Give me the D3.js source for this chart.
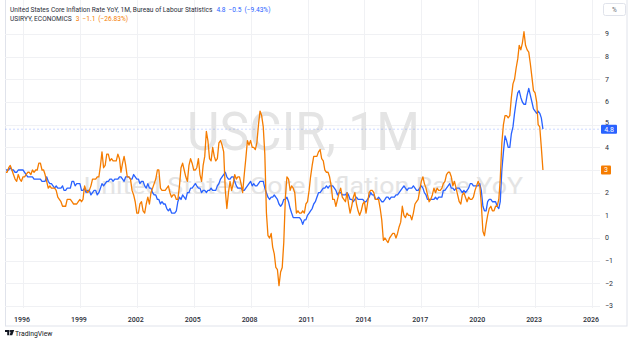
<!DOCTYPE html>
<html><head><meta charset="utf-8">
<script src="https://cdn.jsdelivr.net/npm/d3@7"></script>
<style>
body{margin:0;background:#fff;}
svg{display:block;font-family:Roboto,"Liberation Sans",sans-serif;}
</style>
</head><body>
<svg id="chart" width="635" height="346"></svg>
<script>
// ---- data (monthly, starting Jan 1995) ----
const startMonth = "1995-01";
const coreInflation = [
2.9,3.0,3.0,3.0,3.1,3.0,3.0,2.9,2.9,3.0,3.0,3.0,
3.0,2.9,2.8,2.7,2.7,2.7,2.7,2.6,2.6,2.6,2.6,2.6,
2.5,2.5,2.5,2.7,2.5,2.4,2.4,2.3,2.2,2.3,2.2,2.2,
2.2,2.3,2.1,2.1,2.2,2.2,2.2,2.5,2.5,2.3,2.4,2.4,
2.4,2.1,2.1,2.2,2.0,2.1,2.1,1.9,2.0,2.1,2.1,1.9,
2.0,2.2,2.4,2.3,2.4,2.5,2.5,2.6,2.6,2.5,2.6,2.6,
2.6,2.7,2.7,2.6,2.5,2.7,2.7,2.7,2.6,2.6,2.8,2.7,
2.6,2.6,2.4,2.5,2.5,2.3,2.2,2.4,2.2,2.2,2.0,1.9,
1.9,1.7,1.7,1.5,1.6,1.5,1.5,1.3,1.2,1.3,1.1,1.1,
1.1,1.2,1.6,1.8,1.7,1.9,1.8,1.7,2.0,2.0,2.2,2.2,
2.3,2.4,2.3,2.2,2.2,2.0,2.1,2.1,2.0,2.1,2.1,2.2,
2.1,2.1,2.1,2.3,2.4,2.6,2.7,2.8,2.9,2.7,2.6,2.6,
2.7,2.7,2.5,2.3,2.2,2.2,2.2,2.1,2.1,2.2,2.3,2.4,
2.5,2.3,2.4,2.3,2.3,2.4,2.5,2.5,2.5,2.2,2.0,1.8,
1.7,1.8,1.8,1.9,1.8,1.7,1.5,1.4,1.5,1.7,1.7,1.8,
1.6,1.3,1.1,0.9,0.9,0.9,0.9,0.9,0.8,0.6,0.8,0.8,
1.0,1.1,1.2,1.3,1.5,1.6,1.8,2.0,2.0,2.1,2.2,2.2,
2.3,2.2,2.3,2.3,2.3,2.2,2.1,1.9,2.0,2.0,1.9,1.9,
1.9,2.0,1.9,1.7,1.7,1.6,1.7,1.8,1.7,1.7,1.7,1.7,
1.6,1.6,1.7,1.8,2.0,1.9,1.9,1.7,1.7,1.8,1.7,1.6,
1.6,1.7,1.8,1.8,1.7,1.8,1.8,1.8,1.9,1.9,2.0,2.1,
2.2,2.3,2.2,2.1,2.2,2.2,2.2,2.3,2.2,2.1,2.1,2.2,
2.3,2.2,2.0,1.9,1.7,1.7,1.7,1.7,1.7,1.8,1.7,1.8,
1.8,1.8,2.1,2.1,2.2,2.3,2.4,2.2,2.2,2.1,2.2,2.2,
2.2,2.1,2.0,2.1,2.0,2.1,2.2,2.4,2.4,2.3,2.3,2.3,
2.3,2.4,2.1,1.4,1.2,1.2,1.6,1.7,1.7,1.6,1.6,1.6,
1.4,1.3,1.6,3.0,3.8,4.5,4.3,4.0,4.0,4.6,4.9,5.5,
6.0,6.4,6.5,6.2,6.0,5.9,5.9,6.3,6.6,6.3,6.0,5.7,
5.6,5.5,5.6,5.5,5.3,4.8
];
const headlineInflation = [
2.8,2.9,2.9,3.1,3.2,3.0,2.8,2.6,2.5,2.8,2.6,2.5,
2.7,2.7,2.8,2.9,2.9,2.8,3.0,2.9,3.0,3.0,3.3,3.3,
3.0,3.0,2.8,2.5,2.2,2.3,2.2,2.2,2.2,2.1,1.8,1.7,
1.6,1.4,1.4,1.4,1.7,1.7,1.7,1.6,1.5,1.5,1.5,1.6,
1.7,1.6,1.7,2.3,2.1,2.0,2.1,2.3,2.6,2.6,2.6,2.7,
2.7,3.2,3.8,3.1,3.2,3.7,3.7,3.4,3.5,3.4,3.4,3.4,
3.7,3.5,2.9,3.3,3.6,3.2,2.7,2.7,2.6,2.1,1.9,1.6,
1.1,1.1,1.5,1.6,1.2,1.1,1.5,1.8,1.5,2.0,2.2,2.4,
2.6,3.0,3.0,2.2,2.1,2.1,2.1,2.2,2.3,2.0,1.8,1.9,
1.9,1.7,1.7,2.3,3.1,3.3,3.0,2.7,2.5,3.2,3.5,3.3,
3.0,3.0,3.1,3.5,2.8,2.5,3.2,3.6,4.7,4.3,3.5,3.4,
4.0,3.6,3.4,3.5,4.2,4.3,4.1,3.8,2.1,1.3,2.0,2.5,
2.1,2.4,2.8,2.6,2.7,2.7,2.4,2.0,2.8,3.5,4.3,4.1,
4.3,4.0,4.0,3.9,4.2,5.0,5.6,5.4,4.9,3.7,1.1,0.1,
0.0,0.2,-0.4,-0.7,-1.3,-1.4,-2.1,-1.5,-1.3,-0.2,1.8,2.7,
2.6,2.1,2.3,2.2,2.0,1.1,1.2,1.1,1.1,1.2,1.1,1.5,
1.6,2.1,2.7,3.2,3.6,3.6,3.6,3.8,3.9,3.5,3.4,3.0,
2.9,2.9,2.7,2.3,1.7,1.7,1.4,1.7,2.0,2.2,1.8,1.7,
1.6,2.0,1.5,1.1,1.4,1.8,2.0,1.5,1.2,1.0,1.2,1.5,
1.6,1.1,1.5,2.0,2.1,2.1,2.0,1.7,1.7,1.7,1.3,0.8,
-0.1,0.0,-0.1,-0.2,0.0,0.1,0.2,0.2,0.0,0.2,0.5,0.7,
1.4,1.0,0.9,1.1,1.0,1.0,0.8,1.1,1.5,1.6,1.7,2.1,
2.5,2.7,2.4,2.2,1.9,1.6,1.7,1.9,2.2,2.0,2.2,2.1,
2.1,2.2,2.4,2.5,2.8,2.9,2.9,2.7,2.3,2.5,2.2,1.9,
1.6,1.5,1.9,2.0,1.8,1.6,1.8,1.7,1.7,1.8,2.1,2.3,
2.5,2.3,1.5,0.3,0.1,0.6,1.0,1.3,1.4,1.2,1.2,1.4,
1.4,1.7,2.6,4.2,5.0,5.4,5.4,5.3,5.4,6.2,6.8,7.0,
7.5,7.9,8.5,8.3,8.6,9.1,8.5,8.3,8.2,7.7,7.1,6.5,
6.4,6.0,5.0,4.9,4.0,3.0
];
const yearTicks = [1996,1999,2002,2005,2008,2011,2014,2017,2020,2023,2026];
const priceTicks = [-3,-2,-1,0,1,2,3,4,5,6,7,8,9];
const coreTitle = "United States Core Inflation Rate YoY, 1M, Bureau of Labour Statistics";
const coreStats = ["4.8", "\u22120.5", "(\u22129.43%)"];
const headlineTitle = "USIRYY, ECONOMICS";
const headlineStats = ["3", "\u22121.1", "(\u221226.83%)"];
const watermarkMain = "USCIR, 1M";
const watermarkSub = "United States Core Inflation Rate YoY";
const lastCore = 4.8, lastHeadline = 3;

// ---- drawing ----
const BLUE = "#2962ff", ORANGE = "#f57c00", GRID = "#f0f1f4", TEXT = "#2a2e39";
const svg = d3.select("#chart");
const paneL = 5, paneR = 600, paneT = 0, paneB = 308;

const parse = d3.timeParse("%Y-%m");
const t0 = parse(startMonth);
const toRows = arr => arr.map((v, i) => ({date: d3.timeMonth.offset(t0, i), v}));
const coreRows = toRows(coreInflation), headRows = toRows(headlineInflation);

const x = d3.scaleTime()
  .domain([new Date(1996,0,1), new Date(2026,0,1)])
  .range([23, 592]);
const y = d3.scaleLinear().domain([-3, 9]).range([306, 34]);

// outer frame
svg.append("rect").attr("x", 5.5).attr("y", -1).attr("width", 621.5).attr("height", 327)
  .attr("fill", "none").attr("stroke", "#e0e3eb").attr("stroke-width", 1);

// grid
const grid = svg.append("g");
grid.selectAll("line.h").data(priceTicks).join("line")
  .attr("x1", paneL).attr("x2", paneR)
  .attr("y1", d => Math.round(y(d)) + 0.5).attr("y2", d => Math.round(y(d)) + 0.5)
  .attr("stroke", GRID);
grid.selectAll("line.v").data(yearTicks).join("line")
  .attr("x1", d => Math.round(x(new Date(d,0,1))) + 0.5).attr("x2", d => Math.round(x(new Date(d,0,1))) + 0.5)
  .attr("y1", paneT).attr("y2", paneB)
  .attr("stroke", GRID);

// watermark
const cx = (paneL + paneR) / 2 + 1;
svg.append("text").attr("x", cx).attr("y", 150).attr("text-anchor", "middle")
  .attr("font-size", 53).attr("fill", "#e4e4e4")
  .attr("textLength", 233).attr("lengthAdjust", "spacingAndGlyphs")
  .text(watermarkMain);
svg.append("text").attr("x", cx).attr("y", 194).attr("text-anchor", "middle")
  .attr("font-size", 24.5).attr("fill", "#e4e4e4")
  .attr("textLength", 439).attr("lengthAdjust", "spacingAndGlyphs")
  .text(watermarkSub);

// dashed last-value line
svg.append("line").attr("x1", paneL).attr("x2", paneR)
  .attr("y1", y(lastCore)).attr("y2", y(lastCore))
  .attr("stroke", BLUE).attr("stroke-opacity", 0.3).attr("stroke-width", 0.8).attr("stroke-dasharray", "2,2");

// series
svg.append("clipPath").attr("id", "pane").append("rect")
  .attr("x", paneL + 1).attr("y", paneT).attr("width", paneR - paneL - 1).attr("height", paneB - paneT);
const line = d3.line().x(d => x(d.date)).y(d => y(d.v));
const lines = svg.append("g").attr("clip-path", "url(#pane)");
lines.append("path").datum(coreRows).attr("d", line)
  .attr("fill", "none").attr("stroke", BLUE).attr("stroke-width", 1.3).attr("stroke-linejoin", "round");
lines.append("path").datum(headRows).attr("d", line)
  .attr("fill", "none").attr("stroke", ORANGE).attr("stroke-width", 1.3).attr("stroke-linejoin", "round");

// price axis labels (the one hidden under a last-value label in the reference is skipped)
const hiddenTicks = [lastHeadline];
svg.append("g").selectAll("text").data(priceTicks.filter(d => !hiddenTicks.includes(d))).join("text")
  .attr("x", 605).attr("y", d => d === 5 ? y(d) - 2 : y(d)).attr("dy", "0.35em")
  .attr("font-size", 7).attr("fill", TEXT)
  .text(d => d < 0 ? "\u2212" + Math.abs(d) : d);

// last value labels
function priceLabel(val, color, w) {
  const g = svg.append("g");
  g.append("rect").attr("x", 601).attr("y", y(val) - 4.5).attr("width", w).attr("height", 9)
    .attr("rx", 1).attr("fill", color);
  g.append("text").attr("x", 601 + w / 2).attr("y", y(val)).attr("dy", "0.35em")
    .attr("text-anchor", "middle").attr("font-size", 7).attr("fill", "#fff")
    .text(val);
}
priceLabel(lastCore, BLUE, 16);
priceLabel(lastHeadline, ORANGE, 10);

// time axis labels
svg.append("g").selectAll("text").data(yearTicks).join("text")
  .attr("x", d => x(new Date(d,0,1)) - 1).attr("y", 322)
  .attr("text-anchor", "middle").attr("font-size", 7).attr("font-weight", 500).attr("fill", TEXT)
  .text(d => d);

// % button
svg.append("rect").attr("x", 603.5).attr("y", 3.5).attr("width", 22).attr("height", 12).attr("rx", 2)
  .attr("fill", "#fff").attr("stroke", "#e0e3eb");
svg.append("text").attr("x", 614.5).attr("y", 9.5).attr("dy", "0.35em").attr("text-anchor", "middle")
  .attr("font-size", 6.5).attr("fill", "#6a6d78").text("%");

// legend
function legendRow(yy, title, stats, color) {
  const t = svg.append("text").attr("x", 10).attr("y", yy).attr("font-size", 6.6).attr("fill", TEXT);
  t.append("tspan").text(title);
  stats.forEach((s, i) => t.append("tspan").attr("dx", i === 0 ? 4 : 3).attr("fill", color).text(s));
}
legendRow(12, coreTitle, coreStats, BLUE);
legendRow(21, headlineTitle, headlineStats, ORANGE);

// TradingView logo
const logo = svg.append("g").attr("transform", "translate(5,330)");
logo.append("path").attr("d", "M0,0H4.2V5.2H2.2V2H0Z").attr("fill", "#131722");
logo.append("circle").attr("cx", 5.4).attr("cy", 1).attr("r", 1).attr("fill", "#131722");
logo.append("path").attr("d", "M6.2,0H9.2L7.2,5.2H4.6Z").attr("fill", "#131722");
svg.append("text").attr("x", 15).attr("y", 335.5).attr("font-size", 6.8).attr("fill", "#131722").text("TradingView");
</script>
</body></html>
